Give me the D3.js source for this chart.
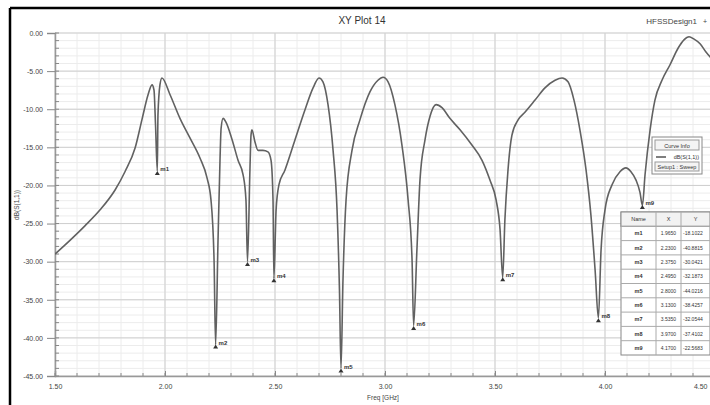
<!DOCTYPE html>
<html><head><meta charset="utf-8">
<script src="https://cdn.jsdelivr.net/npm/d3@7"></script>
<style>body{margin:0;background:#fff;}svg{display:block;font-family:Arial,"Liberation Sans",sans-serif;}</style>
</head><body>
<svg id="c" width="710" height="405"></svg>
<script>
const freq = [1.500,1.568,1.636,1.705,1.773,1.818,1.864,1.895,1.923,1.941,1.950,1.957,1.965,1.968,1.977,1.986,2.023,2.068,2.114,2.159,2.191,2.209,2.223,2.230,2.241,2.250,2.255,2.264,2.277,2.305,2.332,2.355,2.368,2.375,2.386,2.391,2.395,2.409,2.423,2.445,2.468,2.482,2.491,2.495,2.505,2.518,2.545,2.591,2.636,2.673,2.700,2.718,2.741,2.764,2.782,2.793,2.800,2.809,2.823,2.850,2.886,2.932,2.968,2.991,3.014,3.045,3.077,3.105,3.123,3.130,3.145,3.159,3.182,3.205,3.232,3.259,3.295,3.341,3.395,3.441,3.477,3.505,3.523,3.535,3.545,3.559,3.577,3.605,3.636,3.682,3.727,3.773,3.805,3.832,3.859,3.886,3.914,3.936,3.955,3.970,3.982,4.000,4.032,4.068,4.095,4.118,4.141,4.159,4.170,4.182,4.205,4.227,4.259,4.295,4.332,4.359,4.382,4.405,4.432,4.459,4.500];
const s11 = [-29.0,-27.2,-25.3,-23.2,-20.6,-18.2,-15.1,-11.4,-8.1,-6.8,-7.5,-12.1,-18.1,-10.8,-6.8,-5.9,-8.1,-11.2,-13.8,-16.4,-19.0,-21.9,-29.8,-40.9,-27.2,-16.7,-12.5,-11.2,-11.7,-14.0,-16.7,-18.6,-21.9,-30.0,-18.0,-13.4,-12.7,-14.3,-15.4,-15.4,-15.6,-16.7,-21.9,-32.2,-23.2,-19.9,-18.0,-14.0,-10.1,-7.2,-5.9,-6.4,-9.4,-15.4,-23.2,-33.7,-44.0,-32.4,-21.9,-15.4,-11.4,-7.7,-6.2,-5.8,-6.4,-9.4,-14.7,-21.9,-29.8,-38.4,-28.5,-19.3,-14.0,-10.9,-9.4,-9.8,-11.2,-12.7,-14.7,-16.7,-19.3,-21.9,-25.8,-32.1,-24.5,-18.0,-13.4,-11.4,-10.4,-8.8,-7.2,-6.2,-5.9,-6.4,-8.8,-12.7,-18.0,-23.9,-31.1,-37.4,-28.5,-23.2,-19.9,-18.2,-17.7,-18.2,-19.3,-20.9,-22.6,-18.6,-12.7,-8.8,-6.2,-4.2,-2.0,-0.9,-0.5,-0.8,-1.4,-2.5,-3.8];
const markerNames = ["m1","m2","m3","m4","m5","m6","m7","m8","m9"];
const markerX = [1.9650,2.2300,2.3750,2.4950,2.8000,3.1300,3.5350,3.9700,4.1700];
const markerY = [-18.1022,-40.8815,-30.0421,-32.1873,-44.0216,-38.4257,-32.0544,-37.4102,-22.5683];
const xTicks = [1.5,2.0,2.5,3.0,3.5,4.0,4.5];
const yTicks = [0,-5,-10,-15,-20,-25,-30,-35,-40,-45];
const title = "XY Plot 14";
const design = "HFSSDesign1";
const xTitle = "Freq [GHz]";
const yTitle = "dB(S(1,1))";

const svg = d3.select("#c");
const L=55, R=715, T=33, B=376;
const x = d3.scaleLinear().domain([1.5,4.5]).range([L,R]);
const y = d3.scaleLinear().domain([0,-45]).range([T,B]);

// frame
svg.append("rect").attr("x",0).attr("y",0).attr("width",710).attr("height",405).attr("fill","#fff");
svg.append("line").attr("x1",10).attr("x2",710).attr("y1",8).attr("y2",8).attr("stroke","#000").attr("stroke-width",2.5);
svg.append("line").attr("x1",10).attr("x2",10).attr("y1",8).attr("y2",405).attr("stroke","#000").attr("stroke-width",2.5);

// titles
svg.append("text").attr("x",362).attr("y",24).attr("text-anchor","middle").attr("font-size",10).attr("fill","#333").text(title);
svg.append("text").attr("x",697).attr("y",24).attr("text-anchor","end").attr("font-size",8).attr("fill","#444").text(design);
svg.append("text").attr("x",703).attr("y",24).attr("font-size",7).attr("fill","#444").text("+");

// grid
const xMinor = d3.range(1.5,4.5001,0.1);
const yMinor = d3.range(0,-45.001,-1);
const g = svg.append("g");
g.selectAll(".xm").data(xMinor).join("line").attr("x1",d=>x(d)).attr("x2",d=>x(d)).attr("y1",T).attr("y2",B).attr("stroke","#ececec").attr("stroke-width",1);
g.selectAll(".ym").data(yMinor).join("line").attr("x1",L).attr("x2",R).attr("y1",d=>y(d)).attr("y2",d=>y(d)).attr("stroke","#ececec").attr("stroke-width",1);
g.selectAll(".xM").data(xTicks).join("line").attr("x1",d=>x(d)).attr("x2",d=>x(d)).attr("y1",T).attr("y2",B).attr("stroke","#cfcfcf").attr("stroke-width",1);
g.selectAll(".yM").data(yTicks).join("line").attr("x1",L).attr("x2",R).attr("y1",d=>y(d)).attr("y2",d=>y(d)).attr("stroke","#cfcfcf").attr("stroke-width",1);

// axes
const xAxis = d3.axisBottom(x).tickValues(xTicks).tickFormat(d3.format(".2f")).tickSize(-5).tickPadding(8);
const gx = svg.append("g").attr("transform",`translate(0,${B})`).call(xAxis);
const yAxis = d3.axisLeft(y).tickValues(yTicks).tickFormat(d=>d.toFixed(2)).tickSize(8).tickPadding(4);
const gy = svg.append("g").attr("transform",`translate(${L},0)`).call(yAxis);
[gx,gy].forEach(a=>{a.select(".domain").attr("stroke","#999").attr("stroke-width",1.5);a.selectAll(".tick line").attr("stroke","#888");a.selectAll("text").attr("font-size",7).attr("fill","#444").attr("font-family","Arial,sans-serif");});
gx.selectAll(".tick text").filter(d=>d===4.5).attr("text-anchor","end").attr("dx",-8);
// minor ticks
svg.append("g").selectAll("line").data(xMinor).join("line").attr("x1",d=>x(d)).attr("x2",d=>x(d)).attr("y1",B).attr("y2",B-3).attr("stroke","#888");
svg.append("g").selectAll("line").data(yMinor).join("line").attr("x1",L).attr("x2",L+4).attr("y1",d=>y(d)).attr("y2",d=>y(d)).attr("stroke","#888");

svg.append("text").attr("x",383).attr("y",400).attr("text-anchor","middle").attr("font-size",6.5).attr("fill","#444").text(xTitle);
svg.append("text").attr("transform","translate(19,205) rotate(-90)").attr("text-anchor","middle").attr("font-size",6.5).attr("fill","#444").text(yTitle);

// curve
svg.append("clipPath").attr("id","clip").append("rect").attr("x",L).attr("y",T-10).attr("width",R-L).attr("height",B-T+10);
const data = freq.map((f,i)=>[f,s11[i]]);
const line = d3.line().x(d=>x(d[0])).y(d=>y(d[1])).curve(d3.curveMonotoneX);
svg.append("path").attr("clip-path","url(#clip)").datum(data).attr("d",line).attr("fill","none").attr("stroke","#616161").attr("stroke-width",1.6);

// markers
const mg = svg.append("g").selectAll("g").data(markerNames).join("g").attr("transform",(d,i)=>`translate(${x(markerX[i])},${y(markerY[i])})`);
mg.append("path").attr("d","M0,0 L-2.5,4 L2.5,4 Z").attr("fill","#333");
mg.append("text").attr("x",3).attr("y",0).attr("font-size",6).attr("font-weight","bold").attr("fill","#333").text(d=>d);

// legend
const lg = svg.append("g");
lg.append("rect").attr("x",652).attr("y",137).attr("width",50).attr("height",37).attr("fill","#fff").attr("stroke","#888");
lg.append("rect").attr("x",655).attr("y",140).attr("width",44).attr("height",10).attr("fill","#f4f4f4").attr("stroke","#999");
lg.append("text").attr("x",677).attr("y",148).attr("text-anchor","middle").attr("font-size",5.5).attr("fill","#333").text("Curve Info");
lg.append("line").attr("x1",656).attr("x2",666).attr("y1",157).attr("y2",157).attr("stroke","#555").attr("stroke-width",1.5);
lg.append("text").attr("x",699).attr("y",159).attr("text-anchor","end").attr("font-size",5.5).attr("fill","#333").text(yTitle);
lg.append("rect").attr("x",655).attr("y",162).attr("width",44).attr("height",9).attr("fill","#f4f4f4").attr("stroke","#999");
lg.append("text").attr("x",677).attr("y",169).attr("text-anchor","middle").attr("font-size",5.5).attr("fill","#333").text("Setup1 : Sweep");

// marker table
const tx=[621,656,681,710], ty0=212, rh=14.3;
const tg = svg.append("g");
const nRows = markerNames.length+1;
tg.append("rect").attr("x",tx[0]).attr("y",ty0).attr("width",tx[3]-tx[0]).attr("height",rh*nRows).attr("fill","#fff").attr("stroke","#888");
tg.append("rect").attr("x",tx[0]).attr("y",ty0).attr("width",tx[3]-tx[0]).attr("height",rh).attr("fill","#f2f2f2").attr("stroke","#888");
for(let i=1;i<nRows;i++) tg.append("line").attr("x1",tx[0]).attr("x2",tx[3]).attr("y1",ty0+i*rh).attr("y2",ty0+i*rh).attr("stroke","#aaa");
[tx[1],tx[2]].forEach(v=>tg.append("line").attr("x1",v).attr("x2",v).attr("y1",ty0).attr("y2",ty0+rh*nRows).attr("stroke","#aaa"));
const hdr=["Name","X","Y"];
hdr.forEach((h,j)=>tg.append("text").attr("x",(tx[j]+tx[j+1])/2).attr("y",ty0+rh/2+2).attr("text-anchor","middle").attr("font-size",5.5).attr("fill","#333").text(h));
markerNames.forEach((n,i)=>{
  const yy = ty0+(i+1)*rh+rh/2+2;
  tg.append("text").attr("x",(tx[0]+tx[1])/2).attr("y",yy).attr("text-anchor","middle").attr("font-size",5.5).attr("font-weight","bold").attr("fill","#333").text(n);
  tg.append("text").attr("x",(tx[1]+tx[2])/2).attr("y",yy).attr("text-anchor","middle").attr("font-size",5).attr("fill","#333").text(markerX[i].toFixed(4));
  tg.append("text").attr("x",tx[2]+2).attr("y",yy).attr("font-size",5).attr("fill","#333").text(markerY[i].toFixed(4));
});
</script>
</body></html>
